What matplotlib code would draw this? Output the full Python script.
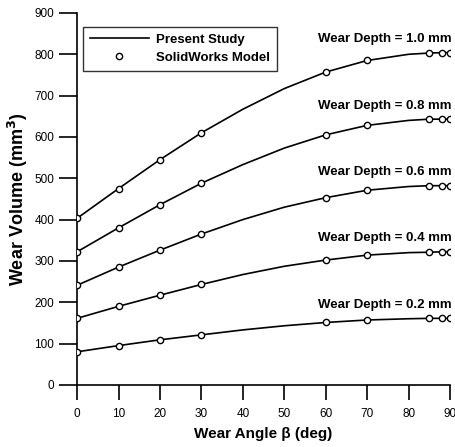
import matplotlib
matplotlib.use("Agg")
import matplotlib.pyplot as plt

plt.rcParams['font.family'] = ['Liberation Sans', 'DejaVu Sans']

angles_marker = [0, 10, 20, 30, 60, 70, 85, 88, 90]
angles_line = [0, 10, 20, 30, 40, 50, 60, 70, 80, 85, 88, 90]
depths = ["1.0", "0.8", "0.6", "0.4", "0.2"]

solidworks = {
    "1.0": [403, 475, 545, 610, 757, 785, 803, 804, 804],
    "0.8": [322, 380, 436, 488, 605, 628, 643, 643, 643],
    "0.6": [241, 285, 326, 365, 453, 471, 482, 482, 482],
    "0.4": [161, 190, 217, 243, 302, 314, 321, 322, 322],
    "0.2": [80, 95, 109, 121, 151, 157, 161, 161, 161],
}
present = {
    "1.0": [403, 475, 545, 610, 667, 717, 757, 785, 800, 803, 804, 804],
    "0.8": [322, 380, 436, 488, 533, 573, 605, 628, 640, 643, 643, 643],
    "0.6": [241, 285, 326, 365, 400, 430, 453, 471, 480, 482, 482, 482],
    "0.4": [161, 190, 217, 243, 267, 287, 302, 314, 320, 321, 322, 322],
    "0.2": [80, 95, 109, 121, 133, 143, 151, 157, 160, 161, 161, 161],
}
xticks = [0, 10, 20, 30, 40, 50, 60, 70, 80, 90]
yticks = [0, 100, 200, 300, 400, 500, 600, 700, 800, 900]

fig = plt.figure(figsize=(4.56, 4.47), dpi=100)
ax = fig.add_axes([0.169, 0.139, 0.818, 0.832])

for i, d in enumerate(depths):
    ax.plot(angles_line, present[d], color='black', lw=1.2,
            label='Present Study' if i == 0 else None, zorder=2)
    ax.plot(angles_marker, solidworks[d], linestyle='none', marker='o',
            markersize=4.5, markerfacecolor='white', markeredgecolor='black',
            markeredgewidth=1.0, label='SolidWorks Model' if i == 0 else None, zorder=3)
    ax.text(90.3, solidworks[d][-1] + 33, f"Wear Depth = {d} mm", ha='right', va='center',
            fontsize=9.5, fontweight='bold')

ax.set_xlim(0, 90)
ax.set_ylim(0, 900)
ax.set_xticks(xticks)
ax.set_yticks(yticks)
ax.spines['top'].set_visible(False)
ax.spines['right'].set_visible(False)
ax.spines['left'].set_linewidth(1.2)
ax.spines['bottom'].set_linewidth(1.2)
ax.tick_params(axis='y', direction='out', length=13, width=1.2, labelsize=8.5, pad=3.5)
ax.tick_params(axis='x', direction='out', length=11, width=1.2, labelsize=8.5, pad=5.5)
for sp in ax.spines.values():
    sp.set_clip_on(False)
ax.set_xlabel('Wear Angle β (deg)', fontsize=11, fontweight='bold', labelpad=5)
ax.set_ylabel('Wear Volume (mm$^\\mathbf{3}$)', fontsize=13, fontweight='bold', labelpad=3)

leg = ax.legend(loc='upper left', bbox_to_anchor=(0.016, 0.962),
                prop={'weight': 'bold', 'size': 9.5}, frameon=True, fancybox=False,
                edgecolor='black', borderpad=0.5, handlelength=4.5, handletextpad=0.55,
                labelspacing=0.45, borderaxespad=0)
leg.get_frame().set_linewidth(1.0)

fig.savefig('out.png', dpi=100)
